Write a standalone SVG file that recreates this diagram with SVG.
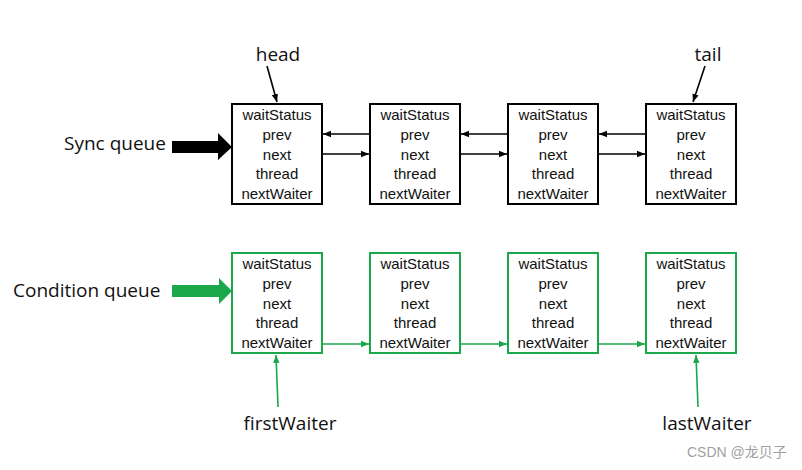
<svg xmlns="http://www.w3.org/2000/svg" width="802" height="470" viewBox="0 0 802 470">
<defs>
<style>
.box{fill:#fff;stroke-width:2}
.k{stroke:#000}
.g{stroke:#1aa84a}
.f{font-family:"Liberation Sans",Arial,sans-serif;font-size:15px;text-anchor:middle;fill:#111}
.lbl{font-family:"Open Sans","Liberation Sans",sans-serif;font-size:19px;fill:#111}
.ln{fill:none;stroke-width:1.6}
</style>
<marker id="ak" viewBox="0 0 10 10" refX="10" refY="5" markerWidth="5" markerHeight="5" orient="auto"><path d="M0,1 L10,5 L0,9 z" fill="#000"/></marker>
<marker id="ag" viewBox="0 0 10 10" refX="10" refY="5" markerWidth="5" markerHeight="5" orient="auto"><path d="M0,1 L10,5 L0,9 z" fill="#1aa84a"/></marker>
<g id="fields">
<text class="f" x="45" y="17">waitStatus</text>
<text class="f" x="45" y="37">prev</text>
<text class="f" x="45" y="57">next</text>
<text class="f" x="45" y="76">thread</text>
<text class="f" x="45" y="96">nextWaiter</text>
</g>
</defs>
<rect width="802" height="470" fill="#fff"/>

<g id="sync-label"><text class="lbl" x="64" y="150">Sync queue</text></g>
<g id="head-label"><text class="lbl" x="278" y="61" text-anchor="middle">head</text></g>
<g id="tail-label"><text class="lbl" x="708" y="61" text-anchor="middle">tail</text></g>
<g id="cond-label"><text class="lbl" x="13" y="297">Condition queue</text></g>
<g id="first-label"><text class="lbl" x="290" y="430" text-anchor="middle">firstWaiter</text></g>
<g id="last-label"><text class="lbl" x="707" y="430" text-anchor="middle">lastWaiter</text></g>

<g id="s1"><rect class="box k" x="232" y="104" width="90" height="100"/><use href="#fields" x="232" y="103"/></g>
<g id="s2"><rect class="box k" x="370" y="104" width="90" height="100"/><use href="#fields" x="370" y="103"/></g>
<g id="s3"><rect class="box k" x="508" y="104" width="90" height="100"/><use href="#fields" x="508" y="103"/></g>
<g id="s4"><rect class="box k" x="646" y="104" width="90" height="100"/><use href="#fields" x="646" y="103"/></g>

<g id="c1"><rect class="box g" x="232" y="253" width="90" height="100"/><use href="#fields" x="232" y="252"/></g>
<g id="c2"><rect class="box g" x="370" y="253" width="90" height="100"/><use href="#fields" x="370" y="252"/></g>
<g id="c3"><rect class="box g" x="508" y="253" width="90" height="100"/><use href="#fields" x="508" y="252"/></g>
<g id="c4"><rect class="box g" x="646" y="253" width="90" height="100"/><use href="#fields" x="646" y="252"/></g>

<g id="connectors">
<path d="M172,141 H218 V133 L232,147 L218,160 V153 H172 z" fill="#000"/>
<path d="M172,285 H219 V278 L232,291 L219,304 V297 H172 z" fill="#1aa84a"/>
<line class="ln k" x1="267" y1="66" x2="277" y2="102" marker-end="url(#ak)"/>
<line class="ln k" x1="705" y1="66" x2="693" y2="102" marker-end="url(#ak)"/>
<line class="ln k" x1="370" y1="134" x2="323" y2="134" marker-end="url(#ak)"/>
<line class="ln k" x1="322" y1="154" x2="369" y2="154" marker-end="url(#ak)"/>
<line class="ln k" x1="508" y1="134" x2="461" y2="134" marker-end="url(#ak)"/>
<line class="ln k" x1="460" y1="154" x2="507" y2="154" marker-end="url(#ak)"/>
<line class="ln k" x1="646" y1="134" x2="599" y2="134" marker-end="url(#ak)"/>
<line class="ln k" x1="598" y1="154" x2="645" y2="154" marker-end="url(#ak)"/>
<line class="ln g" x1="322" y1="344" x2="369" y2="344" marker-end="url(#ag)"/>
<line class="ln g" x1="460" y1="344" x2="507" y2="344" marker-end="url(#ag)"/>
<line class="ln g" x1="598" y1="344" x2="645" y2="344" marker-end="url(#ag)"/>
<line class="ln g" x1="278" y1="407" x2="276" y2="355" marker-end="url(#ag)"/>
<line class="ln g" x1="698" y1="407" x2="696" y2="355" marker-end="url(#ag)"/>
</g>

<text x="687" y="457" font-family="Liberation Sans,'Noto Sans CJK SC',sans-serif" font-size="14" fill="#a0a0a0">CSDN @龙贝子</text>
</svg>
